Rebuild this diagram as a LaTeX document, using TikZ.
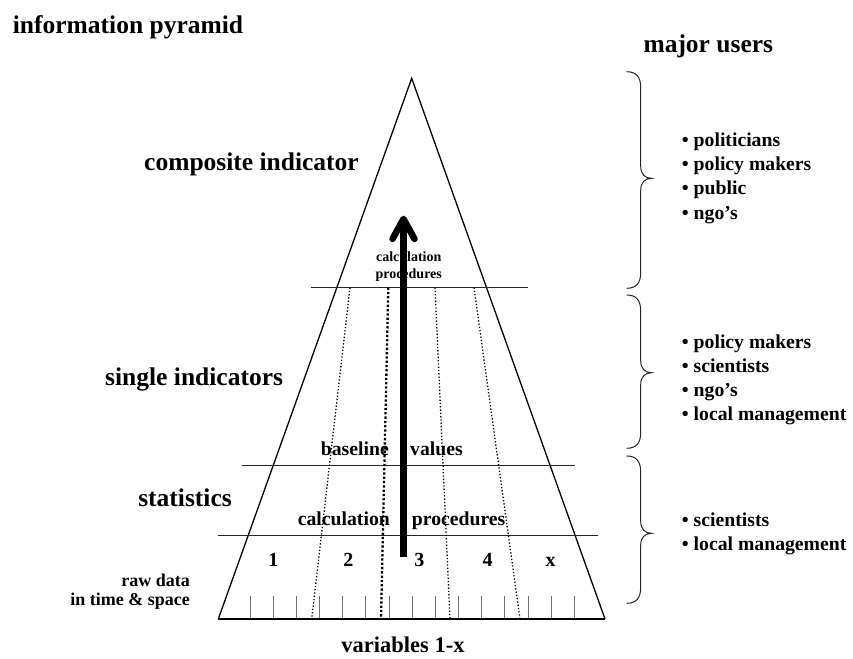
\documentclass[tikz,border=0pt]{standalone}
\usepackage{fontspec}
\setmainfont{Liberation Serif}
\usetikzlibrary{arrows.meta,calc}

\newcommand{\fsz}[1]{\fontsize{#1}{#1}\selectfont\bfseries}

\begin{document}
\begin{tikzpicture}[x=1pt,y=1pt,
    every node/.style={inner sep=0pt},
    headtxt/.style={font=\fsz{25.5}},
    layertxt/.style={font=\fsz{19.7}},
    smalltxt/.style={font=\fsz{14}},
    usertxt/.style={font=\fsz{19.7},anchor=base west},
    sideline/.style={line width=1.3pt},
    divline/.style={line width=0.9pt,black!85},
    tickline/.style={line width=0.8pt,black!55},
    dotline/.style={dotted,line width=1.3pt},
    bracesty/.style={line width=1pt,black!85},
    flow/.style={line width=6.5pt,-{Straight Barb[length=20pt,width=22pt,round]}}]
    \useasboundingbox (0,0) rectangle (853,-658);

    % pyramid
    \coordinate (apex) at (411.7,-78.3);
    \coordinate (bl) at (218.3,-619);
    \coordinate (br) at (605,-619);
    \foreach \k in {0,...,14}
        \draw[tickline] ({250+\k*23.16},-596) -- ({250+\k*23.16},-619);
    \draw[sideline] (bl) -- (apex) -- (br);
    \draw[line width=1.8pt] (bl) -- (br);

    % layers
    \draw[divline] (311,-287.5) -- (528.3,-287.5);
    \draw[divline] (241.7,-465) -- (575,-465);
    \draw[divline] (218.3,-535) -- (597.7,-535);

    % variables
    \foreach \xa/\xb in {350/311.7, 435/450, 474/520}
        \draw[dotline] (\xa,-287.5) -- (\xb,-619);
    \draw[dotline,line width=2.3pt] (388.3,-287.5) -- (381,-619);

    % texts
    \node[headtxt,anchor=base west] (title) at (12.7,-33.3) {information pyramid};
    \node[headtxt,anchor=base west] (users) at (643.3,-52.7) {major users};
    \node[headtxt,anchor=base west] (comp) at (144,-170.7) {composite indicator};
    \node[headtxt,anchor=base west] (single) at (105,-385) {single indicators};
    \node[headtxt,anchor=base east] (stats) at (232,-506) {statistics};
    \node[font=\fsz{18},anchor=base east] (raw) at (190,-586) {raw data};
    \node[font=\fsz{18},anchor=base east] (rawts) at (190,-605) {in time \& space};
    \node[font=\fsz{22.5},anchor=base] (vars) at (403,-652) {variables 1-x};

    \node[smalltxt,anchor=base] (calctop) at (408.7,-261) {calculation};
    \node[smalltxt,anchor=base] (proctop) at (408.7,-278.3) {procedures};
    \node[layertxt,anchor=base east] (basel) at (389,-455.7) {baseline};
    \node[layertxt,anchor=base west] (valu) at (410,-455.7) {values};
    \node[layertxt,anchor=base east] (calc) at (390,-525) {calculation};
    \node[layertxt,anchor=base west] (proc) at (411.7,-525) {procedures};

    \foreach \nm/\xc in {1/273.3, 2/348.3, 3/419.3, 4/487.7, x/550.7}
        \node[font=\fsz{20},anchor=base] (var\nm) at (\xc,-566) {\nm};

    % aggregation
    \coordinate (foot) at (403.5,-557);
    \coordinate (tip) at (403.5,-215.7);
    \draw[flow] (foot) -- (tip);

    % users
    \foreach \btop/\btip/\bbot in {71.7/178.3/288.3, 295/372.7/448.3, 456/533.3/603.3}
        \draw[bracesty] (626.7,-\btop) .. controls (636,-\btop) and (640.7,{-\btop-5}) .. (640.7,{-\btop-16})
            -- (640.7,{-\btip+12}) .. controls (640.7,{-\btip+4}) and (645,-\btip) .. (651.7,-\btip)
            .. controls (645,-\btip) and (640.7,{-\btip-4}) .. (640.7,{-\btip-12})
            -- (640.7,{-\bbot+16}) .. controls (640.7,{-\bbot+5}) and (636,-\bbot) .. (626.7,-\bbot);

    \foreach \who [count=\i] in {politicians, policy makers, public, ngo’s}
        \node[usertxt] (ua\i) at (681.7,{-146-(\i-1)*24.4}) {\textbullet\ \who};
    \foreach \who [count=\i] in {policy makers, scientists, ngo’s, local management}
        \node[usertxt] (ub\i) at (681.7,{-348.3-(\i-1)*24.2}) {\textbullet\ \who};
    \foreach \who [count=\i] in {scientists, local management}
        \node[usertxt] (uc\i) at (681.7,{-526-(\i-1)*24.7}) {\textbullet\ \who};
\end{tikzpicture}
\end{document}
